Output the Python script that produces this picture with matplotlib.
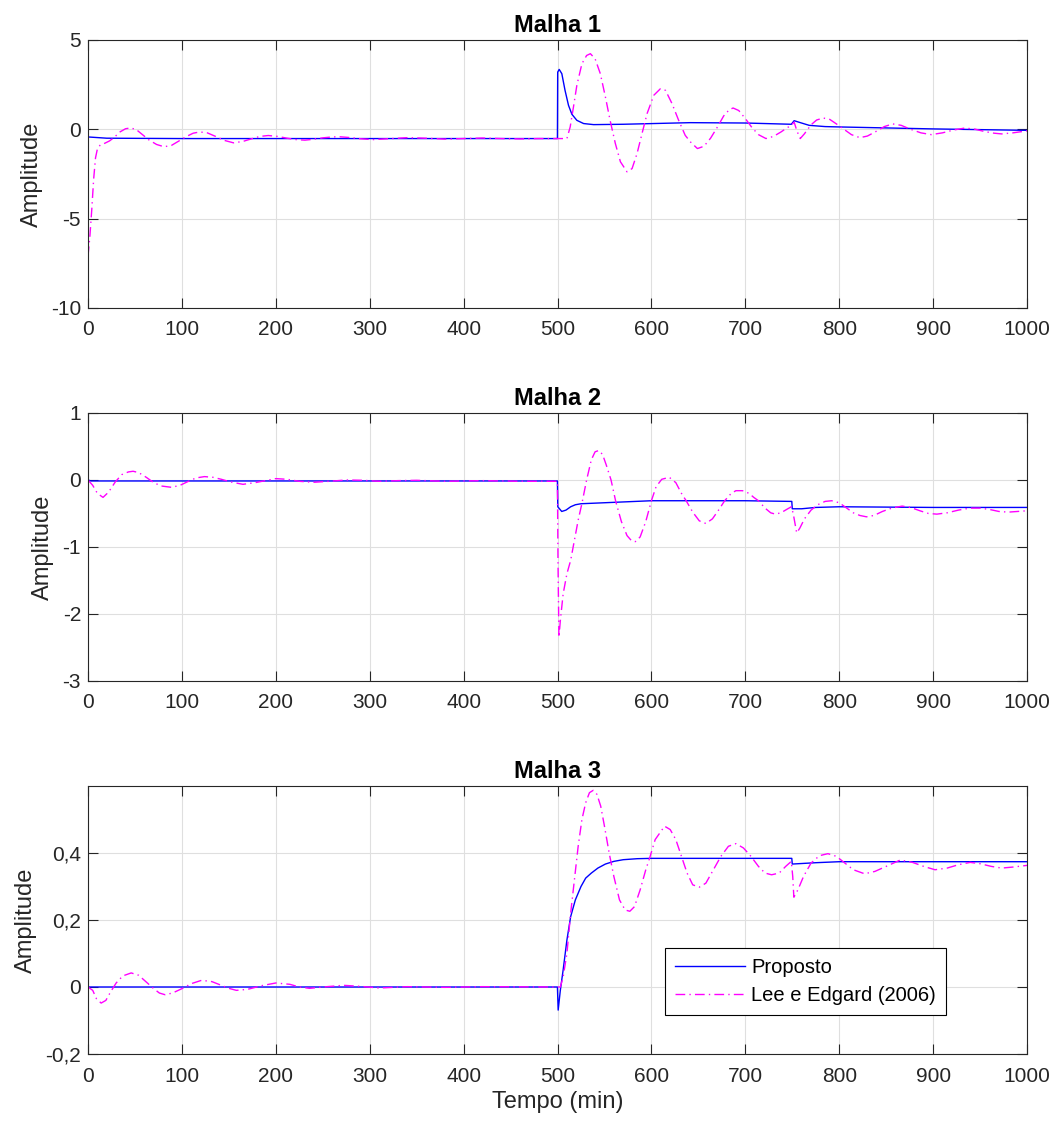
import matplotlib
matplotlib.use("Agg")
import matplotlib.pyplot as plt
from matplotlib.ticker import FuncFormatter

plt.rcParams['font.family'] = ['Liberation Sans', 'DejaVu Sans']
plt.rcParams['axes.unicode_minus'] = False

# ---- dados ----
# Malha 1
t1_prop = [0, 20, 100, 499.9, 500.2, 501.8, 504.6, 508, 511.7, 515.3, 520.6, 527.8, 538.4,
           570, 641.6, 700, 749, 752, 758, 768, 785, 800, 900, 1000]
y1_prop = [-0.43, -0.50, -0.52, -0.52, 3.2, 3.35, 3.11, 2.18, 1.34, 0.84, 0.50, 0.32, 0.26,
           0.28, 0.37, 0.35, 0.28, 0.48, 0.38, 0.22, 0.15, 0.13, 0.02, -0.06]
t1_lee = [0, 2, 4, 6, 8, 10, 13, 18, 23, 28, 34, 40, 45, 51, 58, 65, 73, 81, 89, 97, 105, 112,
          119, 127, 135, 145, 155, 165, 175, 183, 192, 202, 212, 222, 231, 240, 250, 260, 268,
          278, 290, 303, 320, 340, 360, 380, 400, 420, 440, 460, 480, 500, 510, 513.5, 517,
          520.6, 526, 531, 535, 540, 545.6, 551, 556, 561.6, 567, 574, 579.4, 584.7, 590,
          595.4, 602.5, 609.6, 615, 622, 629, 636, 641.6, 649, 656, 663, 670, 677, 683, 687,
          693, 700, 707, 714, 722, 730, 738, 745, 749, 752, 755, 758.5, 763, 770, 776, 783,
          790, 797, 805, 813, 822, 830, 840, 848, 857, 866, 876, 887, 898, 910, 922, 934, 945,
          955, 965, 973, 985, 1000]
y1_lee = [-7.1, -6.0, -4.5, -2.8, -1.6, -1.1, -0.88, -0.78, -0.65, -0.45, -0.15, 0.03, 0.07,
          0.0, -0.3, -0.6, -0.85, -0.98, -0.9, -0.65, -0.4, -0.22, -0.15, -0.2, -0.38, -0.62,
          -0.76, -0.68, -0.52, -0.40, -0.35, -0.40, -0.5, -0.58, -0.61, -0.56, -0.48, -0.43,
          -0.42, -0.46, -0.53, -0.58, -0.53, -0.47, -0.50, -0.55, -0.52, -0.49, -0.52, -0.54,
          -0.52, -0.52, -0.52, 0.13, 1.25, 2.46, 3.67, 4.13, 4.23, 3.95, 3.11, 1.81, 0.50,
          -0.80, -1.82, -2.38, -2.2, -1.36, -0.24, 0.88, 1.90, 2.27, 2.18, 1.43, 0.50, -0.34,
          -0.71, -1.08, -0.95, -0.5, 0.1, 0.75, 1.1, 1.19, 1.05, 0.6, 0.1, -0.3, -0.52, -0.4,
          -0.15, 0.1, 0.22, 0.4, -0.1, -0.52, -0.25, 0.25, 0.52, 0.63, 0.55, 0.3, 0.0, -0.3,
          -0.47, -0.38, -0.1, 0.15, 0.30, 0.22, 0.0, -0.2, -0.30, -0.2, -0.04, 0.07, 0.0,
          -0.13, -0.22, -0.26, -0.2, -0.09]

# Malha 2
t2_prop = [0, 3, 499.9, 500.3, 504.5, 509, 514, 519, 525, 550, 600, 700, 749.5, 750, 760,
           775, 800, 900, 1000]
y2_prop = [0.0, -0.015, -0.015, -0.40, -0.47, -0.45, -0.40, -0.37, -0.355, -0.34, -0.31,
           -0.31, -0.32, -0.43, -0.43, -0.41, -0.40, -0.41, -0.41]
t2_lee = [0, 5, 10, 16, 22, 29, 36, 43, 48, 54, 62, 70, 78, 89, 98, 107, 115, 124, 133, 142,
          152, 165, 178, 189, 200, 212, 225, 240, 257, 275, 293, 311, 330, 350, 380, 420, 460,
          499.9, 500.5, 501.5, 503, 506, 510, 514, 518, 522, 526, 531, 536, 540, 544, 548,
          552, 557, 562, 568, 574, 579, 583, 588, 594, 600, 605, 611, 619, 626, 632, 637,
          644, 651, 658, 665, 672, 678, 685, 690, 697, 704, 709, 714, 721, 727, 732, 738,
          744, 749, 751, 754.7, 758, 763, 770, 777, 785, 792, 800, 808, 815, 822, 829, 837,
          846, 856, 867, 876, 886, 895, 904, 915, 927, 939, 950, 960, 970, 980, 990, 1000]
y2_lee = [0.0, -0.08, -0.2, -0.26, -0.18, -0.03, 0.08, 0.12, 0.13, 0.11, 0.04, -0.04, -0.09,
          -0.11, -0.08, -0.02, 0.03, 0.05, 0.04, 0.01, -0.03, -0.065, -0.04, -0.01, 0.02,
          0.01, -0.02, -0.035, -0.02, 0.0, -0.005, -0.02, -0.01, -0.005, -0.02, -0.01, -0.02,
          -0.02, -1.2, -2.35, -2.1, -1.7, -1.4, -1.2, -0.9, -0.6, -0.35, 0.0, 0.3, 0.42, 0.44,
          0.38, 0.22, 0.0, -0.32, -0.62, -0.83, -0.91, -0.92, -0.85, -0.62, -0.31, -0.1,
          0.01, 0.04, -0.04, -0.2, -0.31, -0.48, -0.61, -0.65, -0.58, -0.44, -0.31, -0.2,
          -0.16, -0.16, -0.2, -0.26, -0.31, -0.42, -0.49, -0.51, -0.49, -0.44, -0.40, -0.5,
          -0.79, -0.72, -0.58, -0.45, -0.37, -0.32, -0.31, -0.34, -0.42, -0.49, -0.53, -0.55,
          -0.53, -0.47, -0.42, -0.39, -0.41, -0.46, -0.50, -0.51, -0.49, -0.45, -0.42, -0.42,
          -0.44, -0.47, -0.48, -0.47, -0.46]

# Malha 3
t3_prop = [0, 499.9, 500.7, 503, 506, 510, 514, 519, 525, 530, 536, 543, 551, 560, 570, 585,
           600, 749.5, 750, 775, 800, 1000]
y3_prop = [0.0, 0.0, -0.069, -0.01, 0.051, 0.14, 0.21, 0.26, 0.30, 0.325, 0.34, 0.355, 0.367,
           0.375, 0.38, 0.383, 0.384, 0.384, 0.367, 0.371, 0.374, 0.374]
t3_lee = [0, 5, 9, 14, 19, 24, 30, 37, 46, 54, 62, 70, 76, 82, 90, 100, 110, 121, 132, 142,
          150, 158, 170, 185, 200, 215, 225, 236, 250, 272, 290, 310, 340, 380, 420, 503, 506,
          510, 514, 518, 522, 526, 530, 534, 538, 542, 546, 550, 555, 560, 566, 572, 577, 582,
          588, 594, 598, 604, 614, 620, 626, 632, 638, 644, 651, 658, 666, 674, 682, 690, 698,
          706, 714, 721, 728, 736, 743, 749, 750.5, 751.7, 756, 762, 770, 779, 788, 797, 806,
          815, 827, 838, 850, 865, 878, 890, 902, 915, 927, 939.5, 950, 962, 973, 985, 1000]
y3_lee = [0.0, -0.01, -0.035, -0.048, -0.04, -0.015, 0.012, 0.033, 0.042, 0.035, 0.015,
          -0.005, -0.018, -0.023, -0.018, -0.005, 0.01, 0.02, 0.016, 0.005, -0.004, -0.01,
          -0.007, 0.004, 0.012, 0.008, 0.0, -0.004, 0.0, 0.005, 0.002, -0.003, 0.001, -0.001,
          0.001, 0.0, 0.03, 0.10, 0.22, 0.32, 0.42, 0.50, 0.55, 0.58, 0.587, 0.575, 0.54,
          0.48, 0.40, 0.33, 0.26, 0.23, 0.226, 0.24, 0.29, 0.35, 0.384, 0.44, 0.48, 0.47,
          0.44, 0.39, 0.34, 0.305, 0.298, 0.31, 0.35, 0.39, 0.42, 0.428, 0.415, 0.39, 0.36,
          0.34, 0.335, 0.34, 0.36, 0.375, 0.33, 0.268, 0.29, 0.33, 0.37, 0.392, 0.398, 0.39,
          0.37, 0.35, 0.338, 0.345, 0.36, 0.379, 0.372, 0.36, 0.35, 0.355, 0.365, 0.372,
          0.368, 0.36, 0.355, 0.358, 0.363]

titles = ['Malha 1', 'Malha 2', 'Malha 3']
ylims = [(-10, 5), (-3, 1), (-0.2, 0.6)]
yticks = [[-10, -5, 0, 5], [-3, -2, -1, 0, 1], [-0.2, 0, 0.2, 0.4]]
xticks = list(range(0, 1001, 100))
series = [(t1_prop, y1_prop, t1_lee, y1_lee),
          (t2_prop, y2_prop, t2_lee, y2_lee),
          (t3_prop, y3_prop, t3_lee, y3_lee)]

dark = '#262626'
fig = plt.figure(figsize=(10.59, 11.28), dpi=100)
bottoms = [0.7270, 0.3963, 0.0656]


def fmt(v, pos):
    # virgula decimal, como no original
    return ('%g' % round(v, 4)).replace('.', ',')


for k in range(3):
    ax = fig.add_axes([0.0831, bottoms[k], 0.8867, 0.2376])
    tp, yp, tl, yl = series[k]
    ax.plot(tp, yp, color=(0, 0, 1), lw=1.0, label='Proposto')
    ax.plot(tl, yl, color=(1, 0, 1), lw=1.0, linestyle=(0, (7, 3, 1, 3)),
            label='Lee e Edgard (2006)')
    ax.set_xlim(0, 1000)
    ax.set_ylim(*ylims[k])
    ax.set_xticks(xticks)
    ax.set_yticks(yticks[k])
    ax.yaxis.set_major_formatter(FuncFormatter(fmt))
    ax.grid(True, color='#dfdfdf', lw=0.8)
    ax.set_axisbelow(True)
    ax.tick_params(direction='in', top=True, right=True, length=7, width=0.8,
                   colors=dark, labelsize=15)
    ax.tick_params(axis='x', pad=9)
    ax.tick_params(axis='y', pad=5)
    for sp in ax.spines.values():
        sp.set_color(dark)
        sp.set_linewidth(0.8)
    ax.set_title(titles[k], fontsize=17, fontweight='bold', pad=6)
    ax.set_ylabel('Amplitude', fontsize=17, color=dark, labelpad=6)
    if k == 2:
        ax.set_xlabel('Tempo (min)', fontsize=17, color=dark, labelpad=4)
        leg = ax.legend(loc='upper left', bbox_to_anchor=(0.614, 0.396), fontsize=14.5,
                        frameon=True, fancybox=False, framealpha=1, edgecolor='black',
                        handlelength=3.5, handletextpad=0.3, labelspacing=0.45,
                        borderpad=0.5, borderaxespad=0)
        leg.get_frame().set_linewidth(0.8)

fig.savefig('out.png', dpi=100)
